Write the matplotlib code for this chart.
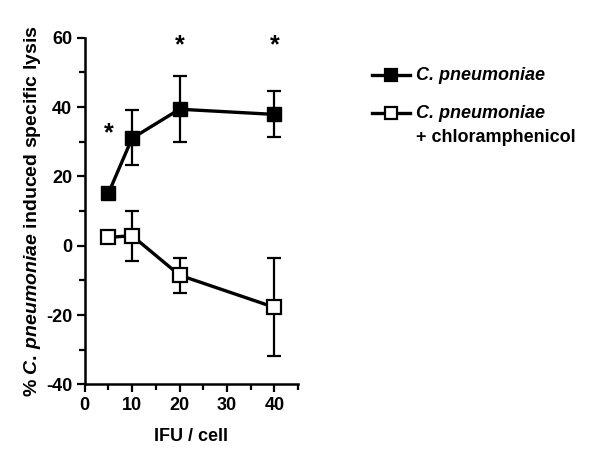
import numpy as np
import matplotlib
matplotlib.use('Agg')
import matplotlib.pyplot as plt
from matplotlib.lines import Line2D
from matplotlib.ticker import MultipleLocator

plt.rcParams['font.family'] = 'Liberation Sans'
plt.rcParams['font.weight'] = 'bold'
plt.rcParams['axes.unicode_minus'] = False
plt.rcParams['mathtext.fontset'] = 'custom'
plt.rcParams['mathtext.rm'] = 'Liberation Sans:bold'
plt.rcParams['mathtext.it'] = 'Liberation Sans:italic:bold'

# Data
ifu = [5, 10, 20, 40]
cpn_mean = [15.1, 31.0, 39.4, 37.9]
cpn_upper = [15.1, 39.2, 49.0, 44.7]
cpn_lower = [15.1, 23.3, 29.9, 31.5]
chl_mean = [2.4, 2.9, -8.5, -17.8]
chl_upper = [2.4, 10.1, -3.4, -3.6]
chl_lower = [2.4, -4.4, -13.6, -31.8]
star_x = [5, 20, 40]
star_y = [32.5, 57.9, 57.9]

fig = plt.figure(figsize=(6, 4.73), dpi=100)
ax = fig.add_axes([0.141, 0.1875, 0.356, 0.7325])


def err(mean, up, low):
    m = np.array(mean)
    return [m - np.array(low), np.array(up) - m]


ax.errorbar(ifu, cpn_mean, yerr=err(cpn_mean, cpn_upper, cpn_lower),
            color='black', lw=2.4, marker='s', ms=9.5, mfc='black', mec='black',
            elinewidth=1.6, capsize=5, capthick=1.6, zorder=3)
ax.errorbar(ifu, chl_mean, yerr=err(chl_mean, chl_upper, chl_lower),
            color='black', lw=2.4, marker='s', ms=10, mfc='white', mec='black',
            mew=1.6, elinewidth=1.6, capsize=5, capthick=1.6, zorder=3)

for x, y in zip(star_x, star_y):
    ax.text(x, y, '*', ha='center', va='center', fontsize=18, fontweight='bold')

ax.set_xlim(0, 45)
ax.set_ylim(-40, 60)
ax.set_xticks([0, 10, 20, 30, 40])
ax.set_yticks([-40, -20, 0, 20, 40, 60])
ax.xaxis.set_minor_locator(MultipleLocator(5))
ax.yaxis.set_minor_locator(MultipleLocator(10))
ax.tick_params(which='major', length=6, width=1.6, labelsize=13, pad=3)
ax.tick_params(which='minor', length=4, width=1.6)
for lbl in ax.get_xticklabels() + ax.get_yticklabels():
    lbl.set_fontweight('bold')

for s in ['top', 'right']:
    ax.spines[s].set_visible(False)
for s in ['left', 'bottom']:
    ax.spines[s].set_linewidth(1.8)

ax.set_xlabel('IFU / cell', fontsize=13, fontweight='bold', labelpad=10)
ax.set_ylabel(r'% $\mathit{C.\,pneumoniae}$ induced specific lysis',
              fontsize=14, fontweight='bold', labelpad=2)

# legend drawn by hand so the marker sits on the first text line
legend_rows = [
    (0.841, 'black', ['C. pneumoniae']),
    (0.761, 'white', ['C. pneumoniae', '+ chloramphenicol']),
]
for ly, face, lines in legend_rows:
    fig.add_artist(Line2D([0.62, 0.683], [ly, ly], transform=fig.transFigure,
                          color='black', lw=2.4))
    fig.add_artist(Line2D([0.6515], [ly], transform=fig.transFigure,
                          marker='s', ms=9, mfc=face, mec='black', mew=1.6))
    for i, t in enumerate(lines):
        fig.text(0.693, ly - i * 0.051, t, fontsize=13, fontweight='bold',
                 fontstyle='italic' if i == 0 else 'normal',
                 va='center', ha='left')

fig.savefig('out.png', dpi=100)
